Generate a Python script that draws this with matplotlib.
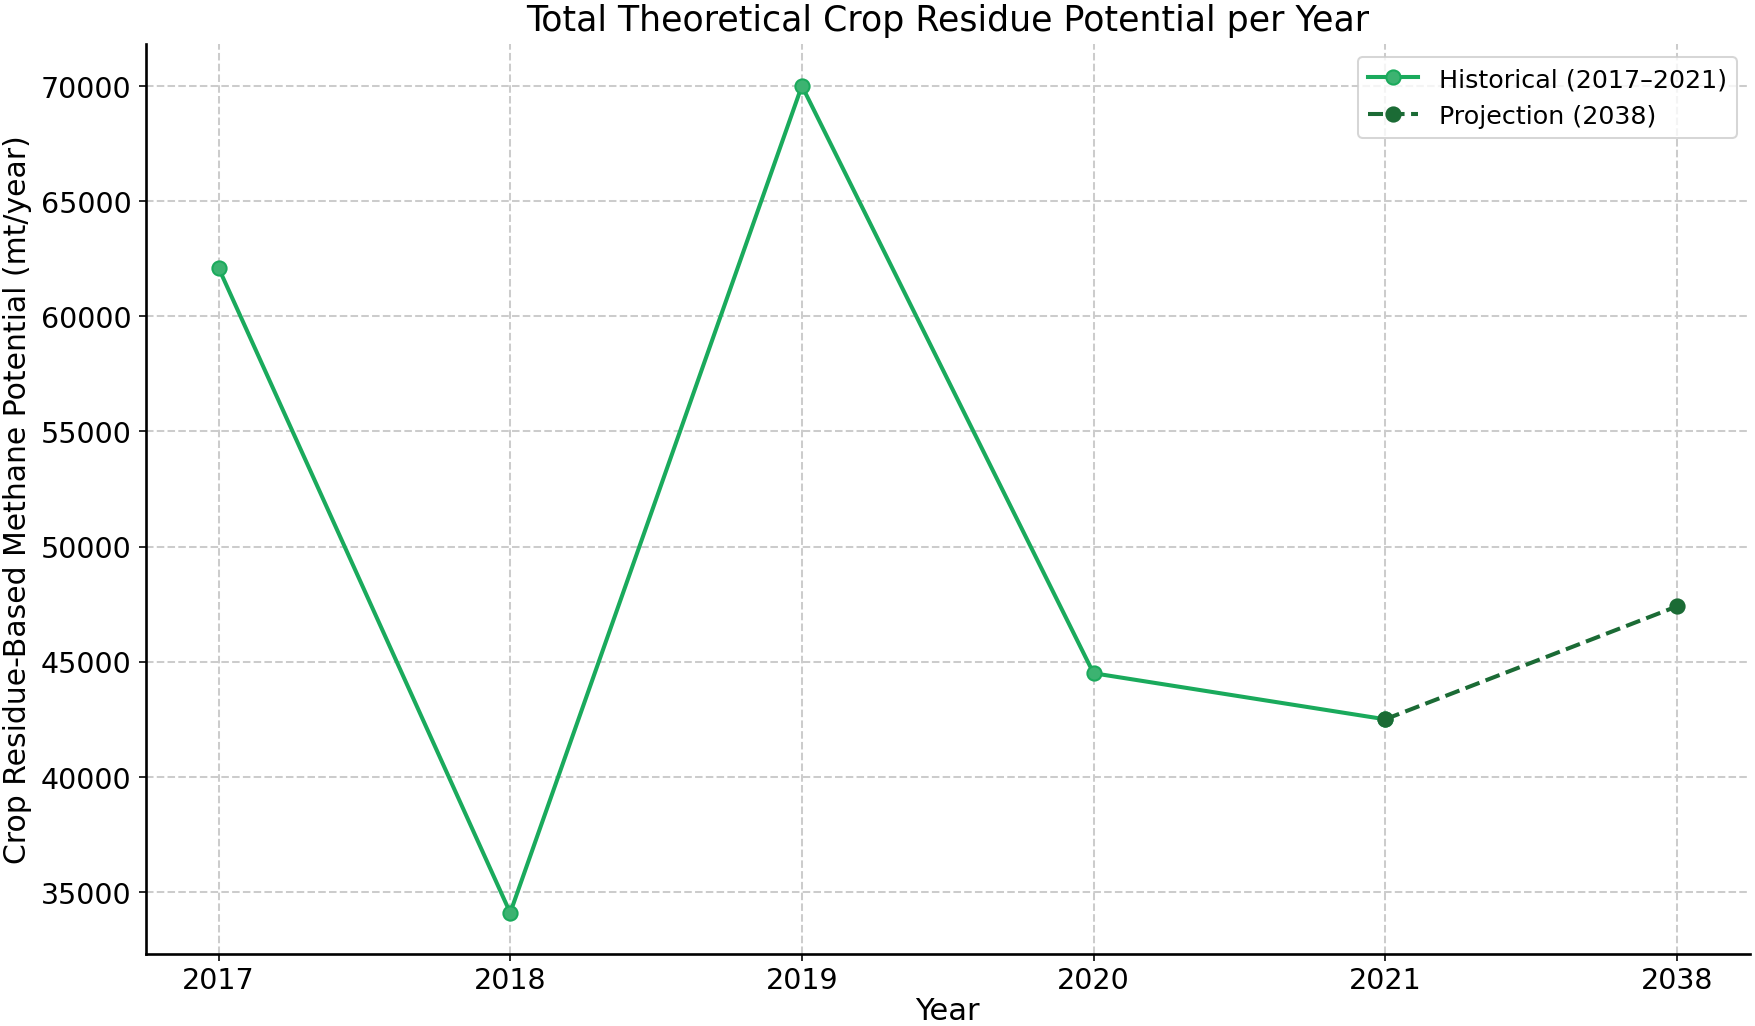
import matplotlib
matplotlib.use("Agg")
import matplotlib.pyplot as plt

# data
anos = ["2017", "2018", "2019", "2020", "2021", "2038"]
historico = [62100, 34100, 70000, 44500, 42500]
projecao_anos = ["2021", "2038"]
projecao = [42500, 47400]

cor_hist = "#1aaa5c"
cor_hist_marker = "#3cb371"
cor_proj = "#1b6b35"

fig, ax = plt.subplots(figsize=(12, 7.02), dpi=146.25)

ax.plot(anos[:5], historico, color=cor_hist, linewidth=2, marker="o", markersize=7,
        markerfacecolor=cor_hist_marker, markeredgecolor=cor_hist,
        label="Historical (2017\u20132021)")
ax.plot(projecao_anos, projecao, color=cor_proj, linewidth=2, linestyle="--", marker="o",
        markersize=7, label="Projection (2038)")

ax.set_title("Total Theoretical Crop Residue Potential per Year", fontsize=17.1, pad=7)
ax.set_xlabel("Year", fontsize=15, labelpad=1)
ax.set_ylabel("Crop Residue-Based Methane Potential (mt/year)", fontsize=14.7)
ax.tick_params(labelsize=14)
ax.tick_params(axis="x", pad=2.5)
ax.grid(True, linestyle="--", color="#cccccc", linewidth=1)
ax.spines["top"].set_visible(False)
ax.spines["right"].set_visible(False)
ax.spines["left"].set_linewidth(1.3)
ax.spines["bottom"].set_linewidth(1.3)
ax.legend(loc="upper right", fontsize=12.5)

fig.subplots_adjust(left=0.083, right=0.997, top=0.956, bottom=0.07)
fig.savefig("out.png", dpi=146.25)
